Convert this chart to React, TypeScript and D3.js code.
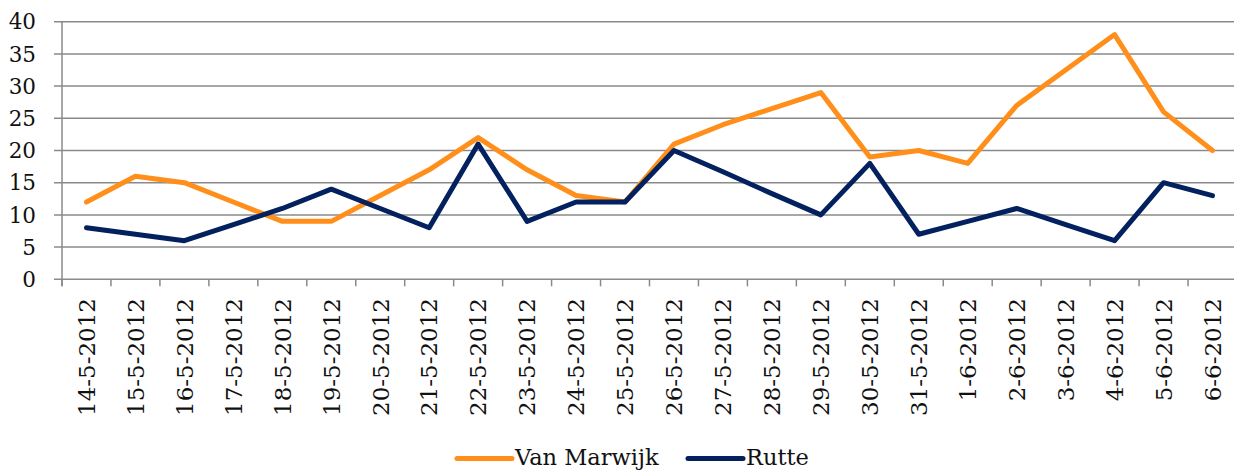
import React, { useEffect, useRef } from 'react';
import * as d3 from 'd3';

const dates = [
  '14-5-2012', '15-5-2012', '16-5-2012', '17-5-2012', '18-5-2012', '19-5-2012',
  '20-5-2012', '21-5-2012', '22-5-2012', '23-5-2012', '24-5-2012', '25-5-2012',
  '26-5-2012', '27-5-2012', '28-5-2012', '29-5-2012', '30-5-2012', '31-5-2012',
  '1-6-2012', '2-6-2012', '3-6-2012', '4-6-2012', '5-6-2012', '6-6-2012',
];
const vanMarwijk = [12, 16, 15, 12, 9, 9, 13, 17, 22, 17, 13, 12, 21, 24, 26.5, 29, 19, 20, 18, 27, 32.5, 38, 26, 20];
const rutte = [8, 7, 6, 8.5, 11, 14, 11, 8, 21, 9, 12, 12, 20, 16.7, 13.3, 10, 18, 7, 9, 11, 8.5, 6, 15, 13];
const yTicks = [0, 5, 10, 15, 20, 25, 30, 35, 40];

const series = [
  { name: 'Van Marwijk', values: vanMarwijk, color: '#FF8F1A' },
  { name: 'Rutte', values: rutte, color: '#03215F' },
];

const W = 1234;
const H = 470;
const FONT = "'DejaVu Serif', 'Liberation Serif', serif";
const GRID = '#8a8a8a';

export default function App() {
  const svgRef = useRef<SVGSVGElement>(null);

  useEffect(() => {
    if (!svgRef.current) return;
    const svg = d3.select(svgRef.current);
    svg.selectAll('*').remove();

    const left = 62, right = 1237, top = 21.7, bottom = 279.3;

    const x = d3.scaleBand().domain(dates).range([left, right]);
    const y = d3.scaleLinear().domain([0, 40]).range([bottom, top]);

    // gridlines
    svg.append('g')
      .selectAll('line')
      .data(yTicks)
      .join('line')
      .attr('x1', left - 8)
      .attr('x2', right)
      .attr('y1', d => y(d))
      .attr('y2', d => y(d))
      .attr('stroke', GRID)
      .attr('stroke-width', 1.5);

    // y axis line
    svg.append('line')
      .attr('x1', left).attr('x2', left)
      .attr('y1', top).attr('y2', bottom + 7)
      .attr('stroke', GRID).attr('stroke-width', 1.5);

    // x ticks at category boundaries
    const bounds = dates.map(d => x(d) as number).concat([right]);
    svg.append('g')
      .selectAll('line')
      .data(bounds)
      .join('line')
      .attr('x1', d => d).attr('x2', d => d)
      .attr('y1', bottom).attr('y2', bottom + 7)
      .attr('stroke', GRID).attr('stroke-width', 1.5);

    // y labels
    svg.append('g')
      .selectAll('text')
      .data(yTicks)
      .join('text')
      .attr('x', 36)
      .attr('y', d => y(d))
      .attr('dy', '0.36em')
      .attr('text-anchor', 'end')
      .style('font-family', FONT)
      .style('font-size', '21.5px')
      .attr('fill', '#111')
      .text(d => d);

    // x labels (rotated)
    svg.append('g')
      .selectAll('text')
      .data(dates)
      .join('text')
      .attr('transform', d => `translate(${(x(d) as number) + x.bandwidth() / 2},298) rotate(-90)`)
      .attr('dy', '0.36em')
      .attr('text-anchor', 'end')
      .style('font-family', FONT)
      .style('font-size', '23px')
      .attr('fill', '#111')
      .text(d => d);

    // lines
    const line = d3.line<number>()
      .x((_, i) => (x(dates[i]) as number) + x.bandwidth() / 2)
      .y(d => y(d));

    series.forEach(s => {
      svg.append('path')
        .datum(s.values)
        .attr('d', line)
        .attr('fill', 'none')
        .attr('stroke', s.color)
        .attr('stroke-width', 5)
        .attr('stroke-linejoin', 'round')
        .attr('stroke-linecap', 'round');
    });

    // legend
    const legendPos = [457, 688];
    series.forEach((s, i) => {
      const lx = legendPos[i];
      svg.append('line')
        .attr('x1', lx).attr('x2', lx + 55)
        .attr('y1', 458.5).attr('y2', 458.5)
        .attr('stroke', s.color)
        .attr('stroke-width', 5)
        .attr('stroke-linecap', 'round');
      svg.append('text')
        .attr('x', lx + 58)
        .attr('y', 465)
        .style('font-family', FONT)
        .style('font-size', '22.5px')
        .attr('fill', '#111')
        .text(s.name);
    });
  }, []);

  return (
    <svg
      ref={svgRef}
      width={W}
      height={H}
      style={{ position: 'absolute', left: 0, top: 0, background: '#fff' }}
    />
  );
}
